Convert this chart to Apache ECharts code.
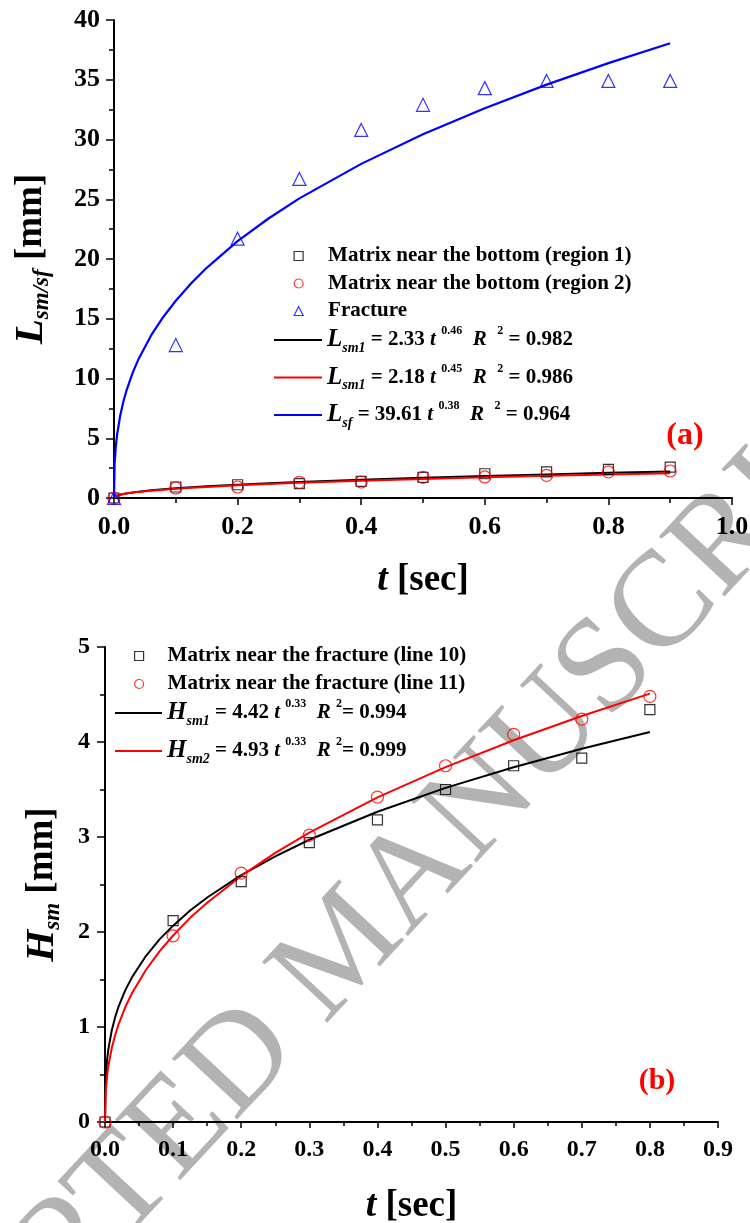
<!DOCTYPE html>
<html><head><meta charset="utf-8">
<script src="https://cdn.jsdelivr.net/npm/echarts@6/dist/echarts.min.js"></script>
<style>html,body{margin:0;padding:0;background:#fff}#c{width:750px;height:1223px}</style>
</head><body><div id="c"></div>
<script>
// ---------- Panel (a) data ----------
const topTimes = [0, 0.1, 0.2, 0.3, 0.4, 0.5, 0.6, 0.7, 0.8, 0.9];
const region1 = [0, 0.92, 1.11, 1.20, 1.39, 1.72, 2.03, 2.18, 2.39, 2.59];
const region2 = [0, 0.84, 0.92, 1.31, 1.34, 1.72, 1.76, 1.89, 2.18, 2.26];
const fracture = [0, 12.8, 21.7, 26.7, 30.8, 32.9, 34.3, 34.9, 34.9, 34.9];
const topFitTimes = [0, 0.001, 0.003, 0.005, 0.01, 0.015, 0.02, 0.03, 0.04, 0.06, 0.08, 0.1, 0.125, 0.15, 0.2, 0.25, 0.3, 0.4, 0.5, 0.6, 0.7, 0.8, 0.9];
const fitSm1a = [0, 0.097, 0.161, 0.204, 0.280, 0.338, 0.385, 0.464, 0.530, 0.639, 0.729, 0.808, 0.896, 0.973, 1.111, 1.231, 1.339, 1.529, 1.694, 1.842, 1.977, 2.103, 2.220];
const fitSm1b = [0, 0.097, 0.160, 0.201, 0.274, 0.329, 0.375, 0.450, 0.512, 0.615, 0.700, 0.773, 0.855, 0.928, 1.057, 1.168, 1.268, 1.443, 1.596, 1.732, 1.857, 1.972, 2.079];
const fitSf = [0, 2.87, 4.36, 5.29, 6.88, 8.03, 8.96, 10.45, 11.66, 13.60, 15.17, 16.51, 17.97, 19.26, 21.49, 23.39, 25.07, 27.96, 30.44, 32.62, 34.59, 36.39, 38.06];
const topScatterNames = ['Matrix near the bottom (region 1)', 'Matrix near the bottom (region 2)', 'Fracture'];
const topFitNames = ['L_sm1 = 2.33 t^0.46 R^2 = 0.982', 'L_sm1 = 2.18 t^0.45 R^2 = 0.986', 'L_sf = 39.61 t^0.38 R^2 = 0.964'];
const topFitRich = [
  '{L|L}{s|sm1}{n| = 2.33 }{i|t }{p|0.46}{n|  }{i|R  }{p|2}{n| = 0.982}',
  '{L|L}{s|sm1}{n| = 2.18 }{i|t }{p|0.45}{n|  }{i|R  }{p|2}{n| = 0.986}',
  '{L|L}{s|sf}{n| = 39.61 }{i|t }{p|0.38}{n|  }{i|R  }{p|2}{n| = 0.964}'
];

// ---------- Panel (b) data ----------
const botTimes = [0, 0.1, 0.2, 0.3, 0.4, 0.5, 0.6, 0.7, 0.8];
const line10 = [0, 2.12, 2.53, 2.94, 3.18, 3.50, 3.75, 3.83, 4.34];
const line11 = [0, 1.96, 2.62, 3.02, 3.42, 3.75, 4.08, 4.24, 4.48];
const botFitTimes = [0, 0.001, 0.003, 0.005, 0.01, 0.015, 0.02, 0.03, 0.04, 0.06, 0.08, 0.1, 0.125, 0.15, 0.2, 0.25, 0.3, 0.4, 0.5, 0.6, 0.7, 0.8];
const fitH1 = [0, 0.452, 0.649, 0.769, 0.967, 1.106, 1.216, 1.391, 1.528, 1.747, 1.922, 2.067, 2.227, 2.363, 2.599, 2.797, 2.971, 3.266, 3.517, 3.734, 3.929, 4.106];
const fitH2 = [0, 0.311, 0.483, 0.592, 0.781, 0.918, 1.031, 1.213, 1.360, 1.600, 1.796, 1.963, 2.149, 2.308, 2.590, 2.833, 3.046, 3.417, 3.736, 4.019, 4.274, 4.509];
const botScatterNames = ['Matrix near the fracture (line 10)', 'Matrix near the fracture (line 11)'];
const botFitNames = ['H_sm1 = 4.42 t^0.33 R^2= 0.994', 'H_sm2 = 4.93 t^0.33 R^2= 0.999'];
const botFitRich = [
  '{L|H}{s|sm1}{n| = 4.42 }{i|t }{p|0.33}{n|  }{i|R }{p|2}{n|= 0.994}',
  '{L|H}{s|sm2}{n| = 4.93 }{i|t }{p|0.33}{n|  }{i|R }{p|2}{n|= 0.999}'
];

const FF = '"Liberation Serif", "Times New Roman", serif';
const BLACK = '#000000', RED = '#ff0000', BLUE = '#0000ff';

function pairs(xs, ys) { return xs.map((x, i) => [x, ys[i]]); }

const eqRich = {
  L: {fontFamily: FF, fontSize: 25, fontStyle: 'italic', fontWeight: 'bold', lineHeight: 30, color: BLACK},
  s: {fontFamily: FF, fontSize: 14, fontStyle: 'italic', fontWeight: 'bold', lineHeight: 10, verticalAlign: 'bottom', color: BLACK},
  n: {fontFamily: FF, fontSize: 21, fontWeight: 'bold', lineHeight: 30, color: BLACK},
  i: {fontFamily: FF, fontSize: 21, fontStyle: 'italic', fontWeight: 'bold', lineHeight: 30, color: BLACK},
  p: {fontFamily: FF, fontSize: 12, fontWeight: 'bold', lineHeight: 14, verticalAlign: 'top', color: BLACK}
};

function axisNameRich() {
  return {
    L: {fontFamily: FF, fontSize: 41, fontStyle: 'italic', fontWeight: 'bold', lineHeight: 46, color: BLACK},
    s: {fontFamily: FF, fontSize: 23, fontStyle: 'italic', fontWeight: 'bold', lineHeight: 14, verticalAlign: 'bottom', color: BLACK},
    n: {fontFamily: FF, fontSize: 37, fontWeight: 'bold', lineHeight: 46, color: BLACK},
    i: {fontFamily: FF, fontSize: 38, fontStyle: 'italic', fontWeight: 'bold', lineHeight: 40, color: BLACK},
    m: {fontFamily: FF, fontSize: 37, fontWeight: 'bold', lineHeight: 40, color: BLACK}
  };
}

function valueAxis(o) {
  return Object.assign({
    type: 'value',
    splitLine: {show: false},
    axisLine: {show: true, onZero: false, lineStyle: {color: BLACK, width: 2}},
    axisTick: {show: true, length: 8, lineStyle: {color: BLACK, width: 1.5}},
    minorTick: {show: true, splitNumber: 2, length: 5, lineStyle: {color: BLACK, width: 1.5}},
    axisLabel: {color: BLACK, fontFamily: FF, fontWeight: 'bold', fontSize: 26, margin: 14, showMinLabel: true, showMaxLabel: true},
    nameLocation: 'middle'
  }, o);
}

const scatterStyle = (sym, color, size) => ({
  symbol: sym, symbolSize: size,
  itemStyle: {color: 'rgba(255,255,255,0)', borderColor: color, borderWidth: 1.2}
});

const hollow = c => ({color: 'rgba(255,255,255,0)', borderColor: c, borderWidth: 1.2});

const option = {
  backgroundColor: '#ffffff',
  animation: false,
  grid: [
    {left: 114, right: 18, top: 20, bottom: 725, outerBoundsMode: 'none'},
    {left: 105, right: 32, top: 647, bottom: 101, outerBoundsMode: 'none'}
  ],
  xAxis: [
    valueAxis({gridIndex: 0, min: 0, max: 1.0, interval: 0.2,
      axisTick: {show: true, length: 7, lineStyle: {color: BLACK, width: 1.5}},
      minorTick: {show: true, splitNumber: 2, length: 5, lineStyle: {color: BLACK, width: 1.5}},
      axisLabel: {color: BLACK, fontFamily: FF, fontWeight: 'bold', fontSize: 26, margin: 16, formatter: v => v.toFixed(1), showMinLabel: true, showMaxLabel: true},
      name: '{i|t}{m| [sec]}', nameGap: 62, nameTextStyle: {rich: axisNameRich()}}),
    valueAxis({gridIndex: 1, min: 0, max: 0.9, interval: 0.1,
      axisTick: {show: true, length: 6, lineStyle: {color: BLACK, width: 1.5}},
      minorTick: {show: true, splitNumber: 2, length: 4, lineStyle: {color: BLACK, width: 1.5}},
      axisLabel: {color: BLACK, fontFamily: FF, fontWeight: 'bold', fontSize: 24, margin: 16, formatter: v => v.toFixed(1), showMinLabel: true, showMaxLabel: true},
      name: '{i|t}{m| [sec]}', nameGap: 64, nameTextStyle: {rich: axisNameRich()}})
  ],
  yAxis: [
    valueAxis({gridIndex: 0, min: 0, max: 40, interval: 5,
      name: '{L|L}{s|sm/sf}{n| [mm]}', nameGap: 60, nameTextStyle: {rich: axisNameRich()}}),
    valueAxis({gridIndex: 1, min: 0, max: 5, interval: 1,
      axisLabel: {color: BLACK, fontFamily: FF, fontWeight: 'bold', fontSize: 24, margin: 15, showMinLabel: true, showMaxLabel: true},
      name: '{L|H}{s|sm}{n| [mm]}', nameGap: 40, nameTextStyle: {rich: axisNameRich()}})
  ],
  legend: [
    {
      left: 293.5, top: 245.5, orient: 'vertical', padding: 0, itemGap: 6.5,
      itemWidth: 9, itemHeight: 9, selectedMode: false,
      textStyle: {fontFamily: FF, fontSize: 21, fontWeight: 'bold', color: BLACK, lineHeight: 21, padding: [0, 0, 0, 20]},
      data: [
        {name: topScatterNames[0], icon: 'rect', itemStyle: hollow(BLACK)},
        {name: topScatterNames[1], icon: 'circle', itemStyle: hollow(RED)},
        {name: topScatterNames[2], icon: 'triangle', itemStyle: hollow(BLUE)}
      ]
    },
    {
      left: 274, top: 325, orient: 'vertical', padding: 0, itemGap: 7.5,
      itemWidth: 48, itemHeight: 2, symbolKeepAspect: false, selectedMode: false,
      textStyle: {color: BLACK, rich: eqRich},
      formatter: name => topFitRich[topFitNames.indexOf(name)],
      data: [
        {name: topFitNames[0], icon: 'rect', itemStyle: {color: BLACK, borderWidth: 0}},
        {name: topFitNames[1], icon: 'rect', itemStyle: {color: RED, borderWidth: 0}},
        {name: topFitNames[2], icon: 'rect', itemStyle: {color: BLUE, borderWidth: 0}}
      ]
    },
    {
      left: 134, top: 645.5, orient: 'vertical', padding: 0, itemGap: 7,
      itemWidth: 9, itemHeight: 9, selectedMode: false,
      textStyle: {fontFamily: FF, fontSize: 21, fontWeight: 'bold', color: BLACK, lineHeight: 21, padding: [0, 0, 0, 19]},
      data: [
        {name: botScatterNames[0], icon: 'rect', itemStyle: hollow(BLACK)},
        {name: botScatterNames[1], icon: 'circle', itemStyle: hollow(RED)}
      ]
    },
    {
      left: 115, top: 698, orient: 'vertical', padding: 0, itemGap: 8,
      itemWidth: 47, itemHeight: 2, symbolKeepAspect: false, selectedMode: false,
      textStyle: {color: BLACK, rich: eqRich},
      formatter: name => botFitRich[botFitNames.indexOf(name)],
      data: [
        {name: botFitNames[0], icon: 'rect', itemStyle: {color: BLACK, borderWidth: 0}},
        {name: botFitNames[1], icon: 'rect', itemStyle: {color: RED, borderWidth: 0}}
      ]
    }
  ],
  graphic: [
    {type: 'text', x: 346, y: 950, rotation: 47 * Math.PI / 180, z: -10, silent: true,
      style: {text: 'ACCEPTED MANUSCRIPT', fontFamily: FF, fontSize: 136, fill: '#b3b3b3', align: 'center', verticalAlign: 'middle'}},
    {type: 'text', x: 685, y: 436, z: 100,
      style: {text: '(a)', fontFamily: FF, fontSize: 32, fontWeight: 'bold', fill: RED, align: 'center', verticalAlign: 'middle'}},
    {type: 'text', x: 657, y: 1081, z: 100,
      style: {text: '(b)', fontFamily: FF, fontSize: 30, fontWeight: 'bold', fill: RED, align: 'center', verticalAlign: 'middle'}}
  ],
  series: [
    // panel (a) fits
    {name: topFitNames[0], type: 'line', xAxisIndex: 0, yAxisIndex: 0, data: pairs(topFitTimes, fitSm1a),
      symbol: 'none', smooth: false, lineStyle: {color: BLACK, width: 2}, itemStyle: {color: BLACK}, z: 3},
    {name: topFitNames[1], type: 'line', xAxisIndex: 0, yAxisIndex: 0, data: pairs(topFitTimes, fitSm1b),
      symbol: 'none', smooth: false, lineStyle: {color: RED, width: 2}, itemStyle: {color: RED}, z: 3},
    {name: topFitNames[2], type: 'line', xAxisIndex: 0, yAxisIndex: 0, data: pairs(topFitTimes, fitSf),
      symbol: 'none', smooth: false, lineStyle: {color: BLUE, width: 2.2}, itemStyle: {color: BLUE}, z: 3},
    // panel (a) points
    Object.assign({name: topScatterNames[0], type: 'scatter', xAxisIndex: 0, yAxisIndex: 0, data: pairs(topTimes, region1), z: 4}, scatterStyle('rect', BLACK, 10)),
    Object.assign({name: topScatterNames[1], type: 'scatter', xAxisIndex: 0, yAxisIndex: 0, data: pairs(topTimes, region2), z: 4}, scatterStyle('circle', RED, 12)),
    Object.assign({name: topScatterNames[2], type: 'scatter', xAxisIndex: 0, yAxisIndex: 0, data: pairs(topTimes, fracture), z: 4}, scatterStyle('triangle', BLUE, 13)),
    // panel (b) fits
    {name: botFitNames[0], type: 'line', xAxisIndex: 1, yAxisIndex: 1, data: pairs(botFitTimes, fitH1),
      symbol: 'none', smooth: false, lineStyle: {color: BLACK, width: 2}, itemStyle: {color: BLACK}, z: 3},
    {name: botFitNames[1], type: 'line', xAxisIndex: 1, yAxisIndex: 1, data: pairs(botFitTimes, fitH2),
      symbol: 'none', smooth: false, lineStyle: {color: RED, width: 2}, itemStyle: {color: RED}, z: 3},
    // panel (b) points
    Object.assign({name: botScatterNames[0], type: 'scatter', xAxisIndex: 1, yAxisIndex: 1, data: pairs(botTimes, line10), z: 4}, scatterStyle('rect', BLACK, 10)),
    Object.assign({name: botScatterNames[1], type: 'scatter', xAxisIndex: 1, yAxisIndex: 1, data: pairs(botTimes, line11), z: 4}, scatterStyle('circle', RED, 12))
  ]
};

const chart = echarts.init(document.getElementById('c'));
chart.setOption(option);
</script>
</body></html>
